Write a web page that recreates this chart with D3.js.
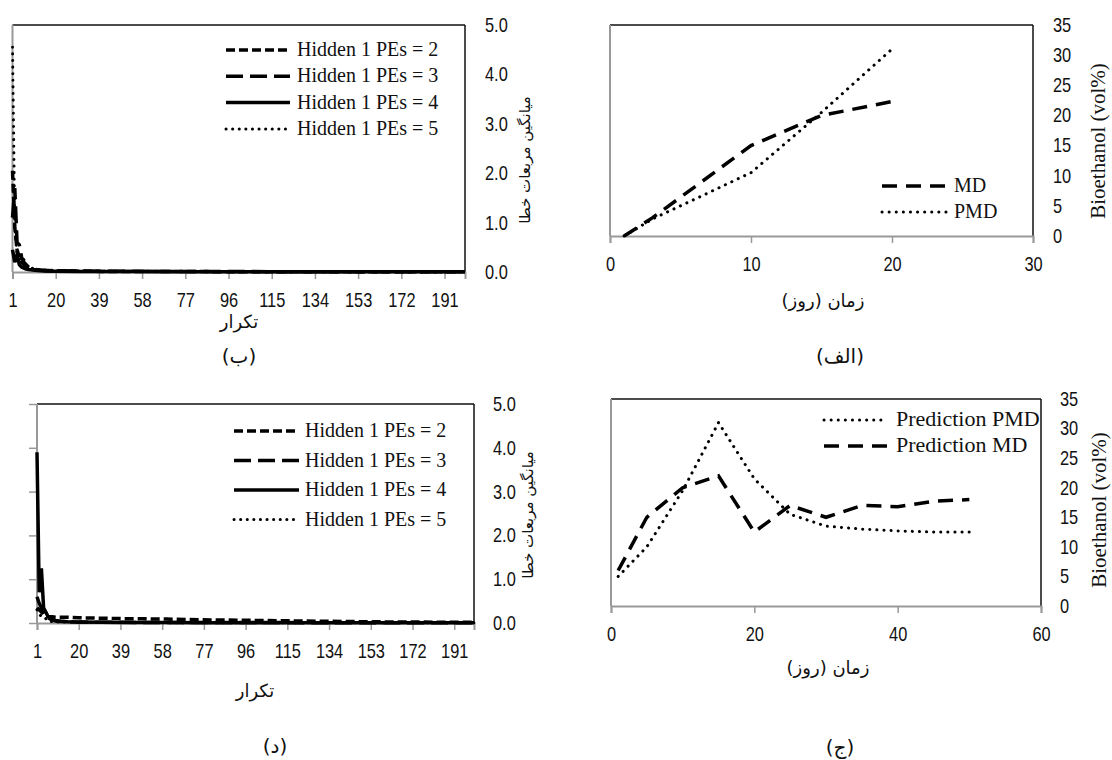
<!DOCTYPE html>
<html>
<head>
<meta charset="utf-8">
<script src="https://cdn.jsdelivr.net/npm/d3@7"></script>
<style>
  body { margin: 0; background: #fff; }
  .num { font-family: "Liberation Sans", Arial, sans-serif; font-size: 20px; fill: #111; }
  .ser { font-family: "Liberation Serif", "Times New Roman", serif; fill: #111; }
  .fa { font-family: "DejaVu Sans", sans-serif; fill: #111; }
</style>
</head>
<body>
<svg id="chart"></svg>
<script>
// ---- data ----
var iterTicks = [1, 20, 39, 58, 77, 96, 115, 134, 153, 172, 191];
var iterPts   = [1, 2, 3, 4, 5, 6, 7, 8, 10, 12, 15, 20, 30, 40, 60, 80, 100, 130, 160, 200];

// panel (ب): top left
var pe2Top = [2.05, 0.9, 0.45, 0.3, 0.2, 0.15, 0.1, 0.08, 0.05, 0.04, 0.03, 0.02, 0.015, 0.012, 0.01, 0.008, 0.007, 0.006, 0.005, 0.005];
var pe3Top = [1.1, 1.7, 0.6, 0.55, 0.3, 0.2, 0.15, 0.1, 0.06, 0.045, 0.035, 0.025, 0.02, 0.015, 0.012, 0.01, 0.008, 0.007, 0.006, 0.005];
var pe4Top = [0.45, 0.2, 0.35, 0.15, 0.1, 0.08, 0.06, 0.05, 0.04, 0.03, 0.02, 0.015, 0.012, 0.01, 0.008, 0.007, 0.006, 0.005, 0.005, 0.004];
var pe5Top = [4.55, 0.95, 0.3, 0.35, 0.2, 0.25, 0.15, 0.1, 0.07, 0.05, 0.04, 0.03, 0.02, 0.015, 0.012, 0.01, 0.008, 0.007, 0.006, 0.005];

// panel (د): bottom left
var pe2Bot = [0.35, 0.3, 0.25, 0.2, 0.18, 0.15, 0.14, 0.14, 0.13, 0.13, 0.13, 0.12, 0.11, 0.1, 0.09, 0.07, 0.06, 0.04, 0.025, 0.015];
var pe3Bot = [0.6, 0.45, 0.35, 0.25, 0.2, 0.12, 0.09, 0.06, 0.04, 0.035, 0.03, 0.02, 0.018, 0.015, 0.012, 0.01, 0.01, 0.008, 0.007, 0.006];
var pe4Bot = [3.9, 0.7, 1.25, 0.35, 0.25, 0.15, 0.12, 0.08, 0.05, 0.04, 0.03, 0.02, 0.015, 0.012, 0.01, 0.008, 0.007, 0.006, 0.005, 0.005];
var pe5Bot = [0.3, 0.2, 0.15, 0.25, 0.1, 0.05, 0.04, 0.03, 0.025, 0.02, 0.02, 0.015, 0.012, 0.01, 0.008, 0.007, 0.006, 0.005, 0.005, 0.004];

var peNames = ["Hidden 1 PEs = 2", "Hidden 1 PEs = 3", "Hidden 1 PEs = 4", "Hidden 1 PEs = 5"];

// panel (الف): top right
var daysA = [1, 3, 10, 15, 20];
var mdA   = [0, 3, 15, 20, 22.3];
var pmdA  = [0, 2.8, 10.5, 20.5, 31];

// panel (ج): bottom right
var daysC = [1, 5, 10, 15, 20, 25, 30, 35, 40, 45, 50];
var pmdC  = [5, 10, 19.5, 31, 21.5, 15.5, 13.5, 13, 12.7, 12.5, 12.5];
var mdC   = [6, 15, 20, 22, 12.5, 17, 15, 17, 16.8, 17.7, 18];

// ---- drawing ----
var svg = d3.select("#chart").attr("width", 1112).attr("height", 760);
var narrow = 0.82; // numbers in the figure use a condensed face

var styles = {
  pe2: { w: 3.5, dash: "9,4", cap: "butt" },
  pe3: { w: 3.5, dash: "17,7", cap: "butt" },
  pe4: { w: 3.5, dash: null, cap: "butt" },
  pe5: { w: 3, dash: "0.1,6.5", cap: "round" },
  md:  { w: 3.5, dash: "15,9", cap: "butt" },
  pmd: { w: 3, dash: "0.1,7", cap: "round" }
};

function styleLine(sel, s) {
  sel.attr("fill", "none").attr("stroke", "#000")
    .attr("stroke-width", s.w)
    .attr("stroke-linecap", s.cap)
    .attr("stroke-dasharray", s.dash);
}

function panel(p) {
  var g = svg.append("g");
  var x = d3.scaleLinear().domain(p.xDom).range([p.x0, p.x1]);
  var y = d3.scaleLinear().domain(p.yDom).range([p.y0, p.y1]);

  // frame: top and right black, left and bottom grey
  g.append("line").attr("x1", p.x0).attr("x2", p.x1).attr("y1", p.y1).attr("y2", p.y1)
    .attr("stroke", "#111").attr("stroke-width", 1.5);
  g.append("line").attr("x1", p.x1).attr("x2", p.x1).attr("y1", p.y1).attr("y2", p.y0)
    .attr("stroke", "#111").attr("stroke-width", 1.5);
  g.append("line").attr("x1", p.x0).attr("x2", p.x0).attr("y1", p.y1).attr("y2", p.y0)
    .attr("stroke", "#999").attr("stroke-width", 2);

  // bottom axis
  var xa = g.append("g").attr("transform", "translate(0," + p.y0 + ")")
    .call(d3.axisBottom(x).tickValues(p.xTicks).tickSize(7).tickPadding(14).tickFormat(d3.format("d")));
  xa.select(".domain").attr("stroke", "#999").attr("stroke-width", 2);
  xa.selectAll(".tick line").attr("stroke", "#999").attr("stroke-width", 1.5);
  xa.selectAll(".tick text").attr("class", "num").attr("fill", null)
    .attr("transform", "scale(" + narrow + ",1)");
  xa.attr("font-family", null).attr("font-size", null);

  // left ticks (only some panels)
  if (p.leftTicks) {
    var la = g.append("g").attr("transform", "translate(" + p.x0 + ",0)")
      .call(d3.axisLeft(y).ticks(5).tickSize(8).tickFormat(""));
    la.select(".domain").remove();
    la.selectAll(".tick line").attr("stroke", "#999").attr("stroke-width", 1.5);
  }

  // right labels
  var ya = g.append("g").attr("transform", "translate(" + p.x1 + ",0)")
    .call(d3.axisRight(y).tickValues(p.yTicks).tickSize(0).tickPadding(p.yPad).tickFormat(p.yFmt));
  ya.select(".domain").remove();
  ya.selectAll(".tick text").attr("class", "num").attr("fill", null)
    .attr("x", p.yPad / narrow).attr("transform", "scale(" + narrow + ",1)");
  ya.attr("font-family", null).attr("font-size", null);

  // series
  var line = d3.line().x(function (d) { return x(d[0]); }).y(function (d) { return y(d[1]); });
  p.series.forEach(function (s) {
    g.append("path").datum(d3.zip(p.xs, s.v)).attr("d", line).call(styleLine, styles[s.st]);
  });

  // legend
  p.legend.forEach(function (l, i) {
    var by = p.leg.y + i * p.leg.dy;
    g.append("line").attr("x1", p.leg.lx0).attr("x2", p.leg.lx1)
      .attr("y1", by - 6).attr("y2", by - 6).call(styleLine, styles[l.st]);
    g.append("text").attr("class", "ser").attr("x", p.leg.tx).attr("y", by)
      .style("font-size", p.leg.fs + "px").text(l.name);
  });

  // titles
  g.append("text").attr("class", p.yTitleCls)
    .attr("transform", "translate(" + p.yt[0] + "," + p.yt[1] + ") rotate(-90)")
    .attr("text-anchor", "middle").attr("dominant-baseline", "central")
    .style("font-size", p.yt[2] + "px").text(p.yTitle);
  g.append("text").attr("class", "fa").attr("x", p.xt[0]).attr("y", p.xt[1])
    .attr("text-anchor", "middle").attr("dominant-baseline", "central")
    .style("font-size", "18px").text(p.xTitle);
  g.append("text").attr("class", "fa").attr("x", p.lab[0]).attr("y", p.lab[1])
    .attr("text-anchor", "middle").attr("dominant-baseline", "central")
    .style("font-size", "20px").text(p.label);
}

var f1 = d3.format(".1f"), f0 = d3.format("d");
var yT5 = [0, 1, 2, 3, 4, 5], yT35 = [0, 5, 10, 15, 20, 25, 30, 35];

panel({
  x0: 12.5, x1: 465, y0: 272, y1: 25, xDom: [1, 200], yDom: [0, 5],
  xTicks: iterTicks, yTicks: yT5, yFmt: f1, yPad: 20, leftTicks: false,
  xs: iterPts,
  series: [{ v: pe4Top, st: "pe4" }, { v: pe3Top, st: "pe3" }, { v: pe2Top, st: "pe2" }, { v: pe5Top, st: "pe5" }],
  legend: [{ name: peNames[0], st: "pe2" }, { name: peNames[1], st: "pe3" }, { name: peNames[2], st: "pe4" }, { name: peNames[3], st: "pe5" }],
  leg: { lx0: 226, lx1: 290, tx: 297, y: 56, dy: 26.3, fs: 20 },
  yTitle: "میانگین مربعات خطا", yTitleCls: "fa", yt: [525, 160, 15],
  xTitle: "تکرار", xt: [239, 321], label: "(ب)", lab: [239, 356]
});

panel({
  x0: 37, x1: 474, y0: 623, y1: 404, xDom: [1, 200], yDom: [0, 5],
  xTicks: iterTicks, yTicks: yT5, yFmt: f1, yPad: 19, leftTicks: true,
  xs: iterPts,
  series: [{ v: pe2Bot, st: "pe2" }, { v: pe3Bot, st: "pe3" }, { v: pe5Bot, st: "pe5" }, { v: pe4Bot, st: "pe4" }],
  legend: [{ name: peNames[0], st: "pe2" }, { name: peNames[1], st: "pe3" }, { name: peNames[2], st: "pe4" }, { name: peNames[3], st: "pe5" }],
  leg: { lx0: 234, lx1: 299, tx: 305, y: 437, dy: 29.5, fs: 20 },
  yTitle: "میانگین مربعات خطا", yTitleCls: "fa", yt: [528, 515, 15],
  xTitle: "تکرار", xt: [255, 690], label: "(د)", lab: [275, 746]
});

panel({
  x0: 610, x1: 1033, y0: 236, y1: 25, xDom: [0, 30], yDom: [0, 35],
  xTicks: [0, 10, 20, 30], yTicks: yT35, yFmt: f0, yPad: 20, leftTicks: false,
  xs: daysA,
  series: [{ v: mdA, st: "md" }, { v: pmdA, st: "pmd" }],
  legend: [{ name: "MD", st: "md" }, { name: "PMD", st: "pmd" }],
  leg: { lx0: 882, lx1: 947, tx: 954, y: 192, dy: 26, fs: 20 },
  yTitle: "Bioethanol (vol%)", yTitleCls: "ser", yt: [1098, 141, 21],
  xTitle: "زمان (روز)", xt: [823, 300], label: "(الف)", lab: [840, 356]
});

panel({
  x0: 611, x1: 1041, y0: 606, y1: 399, xDom: [0, 60], yDom: [0, 35],
  xTicks: [0, 20, 40, 60], yTicks: yT35, yFmt: f0, yPad: 19, leftTicks: false,
  xs: daysC,
  series: [{ v: pmdC, st: "pmd" }, { v: mdC, st: "md" }],
  legend: [{ name: "Prediction PMD", st: "pmd" }, { name: "Prediction MD", st: "md" }],
  leg: { lx0: 824, lx1: 887, tx: 896, y: 426, dy: 26, fs: 22 },
  yTitle: "Bioethanol (vol%)", yTitleCls: "ser", yt: [1099, 510, 21],
  xTitle: "زمان (روز)", xt: [828, 667], label: "(ج)", lab: [840, 747]
});
</script>
</body>
</html>
